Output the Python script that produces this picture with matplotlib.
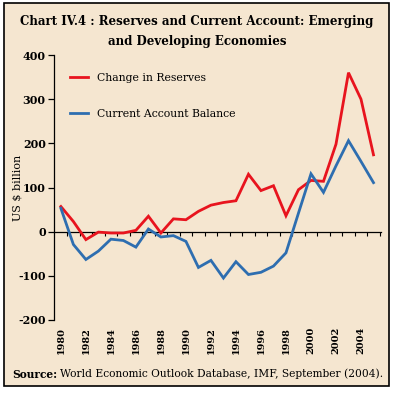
import matplotlib
matplotlib.use("Agg")
import matplotlib.pyplot as plt
from matplotlib.patches import Rectangle
import numpy as np

years = list(range(1980, 2006))
reserves = [57, 23, -18, -1, -3, -3, 3, 35, -3, 29, 27, 46, 60, 66, 70, 130, 93, 104, 36, 95, 116, 114, 198, 360, 300, 174]
current_account = [53, -29, -63, -44, -17, -20, -35, 6, -12, -9, -22, -81, -65, -105, -68, -97, -92, -78, -48, 42, 131, 89, 149, 206, 159, 111]
yticks = [-200, -100, 0, 100, 200, 300, 400]
xlabels = list(range(1980, 2005, 2))

BG = "#F5E6D0"
RED = "#E8141E"
BLUE = "#2E6EB0"
SERIF = "DejaVu Serif"

fig = plt.figure(figsize=(3.94, 3.94), dpi=100, facecolor="white")
fig.patches.append(Rectangle((4/394, 8/394), 385/394, 383/394, transform=fig.transFigure,
                             facecolor=BG, edgecolor="black", linewidth=1.2, zorder=-10))

ax = fig.add_axes([54/394, 1-320/394, (381-54)/394, (320-55)/394])
ax.set_facecolor(BG)
ax.patch.set_alpha(0)

ax.plot(years, reserves, color=RED, lw=2.0, label="Change in Reserves", solid_joinstyle="miter")
ax.plot(years, current_account, color=BLUE, lw=2.0, label="Current Account Balance", solid_joinstyle="miter")

ax.set_xlim(1979.45, 2005.6)
ax.set_ylim(-200, 400)
for s in ["top", "right", "bottom"]:
    ax.spines[s].set_visible(False)
ax.spines["left"].set_linewidth(0.9)
ax.set_yticks(yticks)
ax.set_yticklabels([str(v) for v in yticks], fontfamily=SERIF, fontweight="bold", fontsize=8)
ax.tick_params(axis="y", direction="out", length=4, width=0.9, pad=2)

ax.set_xticks(xlabels)
ax.set_xticklabels([str(v) for v in xlabels], rotation=90, fontfamily=SERIF, fontweight="bold", fontsize=7)
ax.tick_params(axis="x", length=0, pad=5)

# zero line with ticks between years
sec = ax.secondary_xaxis(1/3)
sec.set_xticks([y - 0.5 for y in years[1:]] + [years[-1] + 0.5])
sec.set_xticklabels([])
sec.tick_params(axis="x", direction="out", length=3, width=0.8)
sec.spines["bottom"].set_linewidth(0.9)
sec.spines["top"].set_linewidth(0.9)

ax.set_ylabel("US $ billion", fontfamily=SERIF, fontsize=8)
ax.yaxis.set_label_coords(-0.095, 0.5)

leg = ax.legend(loc="upper left", frameon=False, bbox_to_anchor=(0.02, 0.97),
                prop={"family": SERIF, "size": 7.8}, handlelength=1.6, labelspacing=2.4, handletextpad=0.9)

fig.text(0.5, 1-22/394, "Chart IV.4 : Reserves and Current Account: Emerging",
         ha="center", va="center", fontfamily=SERIF, fontweight="heavy", fontsize=8.5)
fig.text(0.5, 1-41/394, "and Developing Economies",
         ha="center", va="center", fontfamily=SERIF, fontweight="heavy", fontsize=8.5)

t1 = fig.text(12/394, 1-374/394, "Source:", ha="left", va="center", fontfamily=SERIF, fontweight="bold", fontsize=7.7)
fig.canvas.draw()
bb = t1.get_window_extent()
fig.text((bb.x1 + 3)/394, 1-374/394, "World Economic Outlook Database, IMF, September (2004).",
         ha="left", va="center", fontfamily=SERIF, fontsize=7.7)

fig.savefig("out.png", dpi=100, facecolor="white")
